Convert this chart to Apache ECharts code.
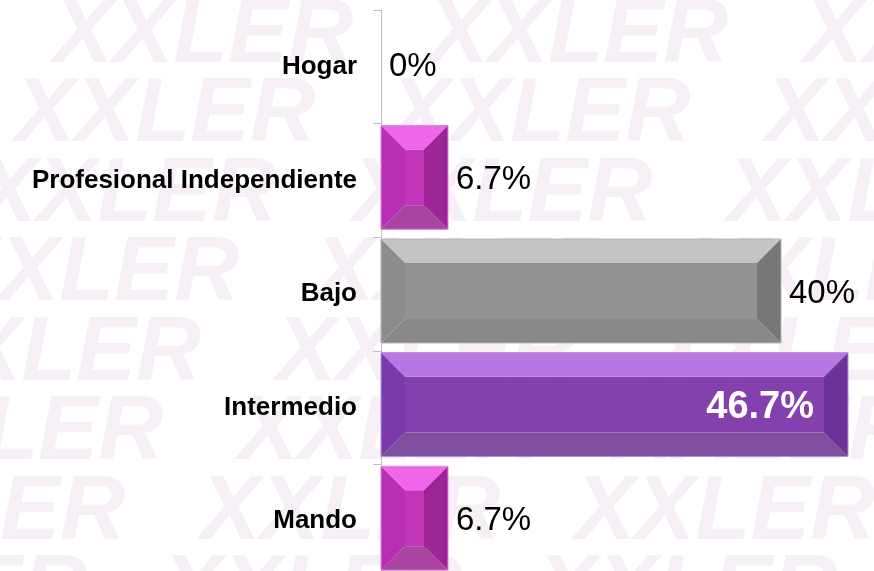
<!DOCTYPE html>
<html>
<head>
<meta charset="utf-8">
<script src="https://cdn.jsdelivr.net/npm/echarts@6/dist/echarts.min.js"></script>
<style>
  html, body { margin: 0; padding: 0; background: #fff; }
  #chart { width: 874px; height: 571px; }
</style>
</head>
<body>
<div id="chart"></div>
<script>
const categories = ['Hogar', 'Profesional Independiente', 'Bajo', 'Intermedio', 'Mando'];
const values = [0, 6.7, 40, 46.7, 6.7];
const valueLabels = ['0%', '6.7%', '40%', '46.7%', '6.7%'];

// colores de las caras del bisel
const faces = {
  magenta: { top: '#f066ea', left: '#b92fb4', mid: '#c235b9', right: '#9d2495', bottom: '#a9459f', edge: '#d98ad5' },
  gray:    { top: '#c4c4c4', left: '#8c8c8c', mid: '#929292', right: '#777777', bottom: '#898989', edge: '#b5b5b5' },
  purple:  { top: '#b777e3', left: '#7b3aab', mid: '#8441ae', right: '#6b3397', bottom: '#7e4e9f', edge: '#b48ed6' }
};
const barFace = ['magenta', 'magenta', 'gray', 'purple', 'magenta'];

const chart = echarts.init(document.getElementById('chart'));

function poly(points, fill) {
  return { type: 'polygon', shape: { points: points }, style: { fill: fill }, silent: true };
}

//barra con bisel
function renderBevel(params, api) {
  const v = api.value(0);
  const i = api.value(1);
  if (!v) return;
  const p0 = api.coord([0, i]);
  const p1 = api.coord([v, i]);
  const band = api.size([0, 1])[1];
  const h = band * 0.915;
  const x0 = p0[0], x1 = p1[0];
  const y0 = p0[1] - h / 2 - 3, y1 = y0 + h;
  const b = Math.min(24, (x1 - x0) / 2, h / 2);
  const c = faces[barFace[params.dataIndex]];
  return {
    type: 'group',
    children: [
      { type: 'rect', shape: { x: x0 + b, y: y0 + b, width: x1 - x0 - 2 * b, height: h - 2 * b }, style: { fill: c.mid } },
      poly([[x0, y0], [x1, y0], [x1 - b, y0 + b], [x0 + b, y0 + b]], c.top),
      poly([[x0, y1], [x1, y1], [x1 - b, y1 - b], [x0 + b, y1 - b]], c.bottom),
      poly([[x0, y0], [x0 + b, y0 + b], [x0 + b, y1 - b], [x0, y1]], c.left),
      poly([[x1, y0], [x1 - b, y0 + b], [x1 - b, y1 - b], [x1, y1]], c.right),
      { type: 'rect', shape: { x: x0, y: y0, width: x1 - x0, height: h }, style: { fill: 'none', stroke: c.edge, lineWidth: 1 } }
    ]
  };
}

// marca de agua de fondo
let watermark = [];
for (let k = 0; k < 8; k++) {
  watermark.push({
    type: 'text',
    x: 53 - 38 * k - 375,
    y: -8 + 79.5 * k,
    z: -100,
    silent: true,
    style: {
      text: 'XXLER   XXLER   XXLER   XXLER',
      fontSize: 90,
      fontStyle: 'italic',
      fontWeight: 'bold',
      fontFamily: 'Liberation Sans',
      fill: '#f6f0f6'
    }
  });
}

let labelData = values.map((v, idx) => {
  let item = { value: v };
  if (idx === 3) {
    item.label = { position: 'insideRight', distance: 34, color: '#fff', fontWeight: 'bold', fontSize: 38 };
  }
  return item;
});

let option = {
  animation: false,
  graphic: watermark,
  grid: { left: 381, right: 0, top: 10, bottom: -7, containLabel: false, outerBoundsMode: 'none' },
  xAxis: { type: 'value', min: 0, max: 49.3, show: false },
  yAxis: {
    type: 'category',
    data: categories,
    inverse: true,
    axisLine: { lineStyle: { color: '#bfbfbf', width: 1 } },
    axisTick: { show: true, length: 8, lineStyle: { color: '#bfbfbf' } },
    axisLabel: { fontSize: 26, fontWeight: 'bold', color: '#000', margin: 24, fontFamily: 'Liberation Sans' },
    splitLine: { show: false }
  },
  series: [
    {
      type: 'custom',
      renderItem: renderBevel,
      data: values.map((v, idx) => [v, idx]),
      encode: { x: 0, y: 1 },
      silent: true,
      z: 2
    },
    {
      type: 'bar',
      data: labelData,
      barWidth: '100%',
      silent: true,
      z: 3,
      itemStyle: { color: 'rgba(0,0,0,0)' },
      label: {
        show: true,
        position: 'right',
        distance: 8,
        fontSize: 33,
        color: '#000',
        fontFamily: 'Liberation Sans',
        formatter: (p) => valueLabels[p.dataIndex]
      }
    }
  ]
};
chart.setOption(option);
</script>
</body>
</html>
